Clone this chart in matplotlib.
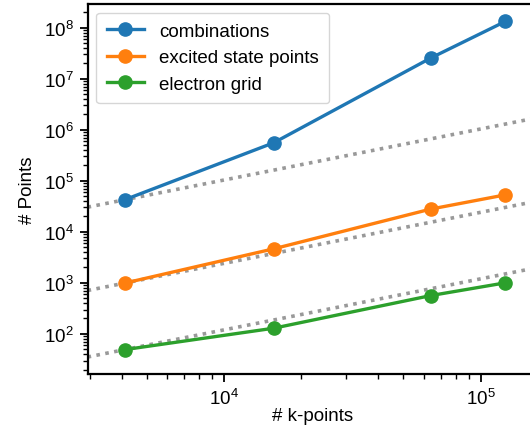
import matplotlib
matplotlib.use("Agg")
import matplotlib.pyplot as plt
import numpy as np

plt.rcParams['font.family'] = ['Liberation Sans', 'DejaVu Sans']

kpoints = [4096, 15625, 64000, 125000]
combinations = [4.24e4, 5.56e5, 2.55e7, 1.33e8]
excited_state_points = [986, 4.64e3, 2.79e4, 5.3e4]
electron_grid = [49, 129, 563, 1000]
labels = ["combinations", "excited state points", "electron grid"]
colors = ["#1f77b4", "#ff7f0e", "#2ca02c"]

fig = plt.figure(figsize=(5.30, 4.27), dpi=100)
ax = fig.add_axes([0.166, 0.122, 0.87, 0.866])

series = [combinations, excited_state_points, electron_grid]
xref = np.array([1000, 1e6])
for vals in series:
    ax.plot(xref, vals[0] * xref / kpoints[0], ls=(0, (1, 1.5)), color='0.6', lw=2.6, zorder=1)
for vals, lab, c in zip(series, labels, colors):
    ax.plot(kpoints, vals, '-o', color=c, lw=2.4, ms=9.5, label=lab, zorder=3)

ax.set_xscale('log')
ax.set_yscale('log')
ax.set_xlim(2950, 1.85e5)
ax.set_ylim(16.4, 2.9e8)
ax.set_xlabel('# k-points', fontsize=13.5, va='center')
ax.xaxis.set_label_coords(0.487, -0.112)
ax.set_ylabel('# Points', fontsize=13.5, labelpad=6)
ax.tick_params(which='major', labelsize=13.5, length=6, width=1.3, pad=4)
ax.tick_params(which='minor', length=3.5, width=1.0)
for s in ax.spines.values():
    s.set_linewidth(1.6)
leg = ax.legend(loc='upper left', fontsize=13.5, handlelength=2.0,
                borderaxespad=0.45, labelspacing=0.5, borderpad=0.55)
fig.savefig('out.png', dpi=100)
